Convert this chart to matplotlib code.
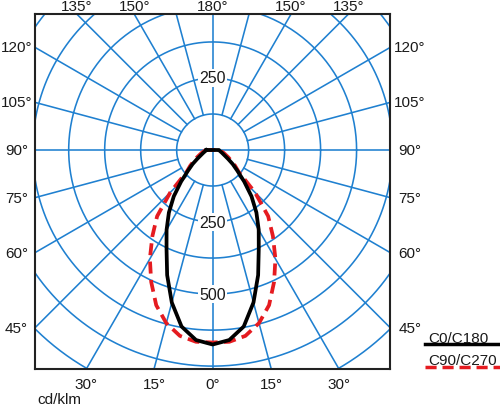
"""Polar luminous intensity diagram (cd/klm), C0/C180 and C90/C270 planes."""
import numpy as np
import matplotlib
matplotlib.use("Agg")
import matplotlib.pyplot as plt
from matplotlib.lines import Line2D

plt.rcParams["font.family"] = ["Liberation Sans", "DejaVu Sans"]

# gamma angle from nadir (deg), intensity in cd/klm
gamma = [0, 5, 10, 15, 20, 25, 30, 35, 40, 45, 50, 55, 60, 65, 70, 75, 80, 85, 90]
c0_c180 = [675, 662, 622, 548, 462, 379, 320, 265, 210, 155, 112, 85, 62, 47,
           38, 32, 27, 24, 22]
c90_c270 = [668, 668, 655, 622, 573, 505, 436, 365, 300, 208, 118, 95, 75, 60,
            48, 40, 33, 28, 25]

ring_step = 125
ring_labels_top = [250]
ring_labels_bottom = [250, 500]
side_angles = [120, 105, 90, 75, 60, 45]
top_angles = [135, 150, 180, 150, 135]
top_signs = [-1, -1, 0, 1, 1]
bottom_angles = [30, 15, 0, 15, 30]
bottom_signs = [-1, -1, 0, 1, 1]

BLUE = "#1f80d0"
RED = "#e51b20"
TXT = "#1a1a1a"
FS = 11

fig = plt.figure(figsize=(5.0, 4.06), dpi=100)
ax = fig.add_axes([35 / 500, 36 / 406, 355 / 500, 355 / 406])
xmin, xmax, ymin, ymax = -617, 616, -760, 472
ax.set_xlim(xmin, xmax)
ax.set_ylim(ymin, ymax)
ax.set_xticks([]); ax.set_yticks([])
for s in ax.spines.values():
    s.set_linewidth(1.5); s.set_color("#222222")
upp = (xmax - xmin) / 355  # data units per pixel

# grid: rings and radial lines
t = np.linspace(0, 2 * np.pi, 400)
for k in range(1, 9):
    r = k * ring_step
    ax.plot(r * np.cos(t), r * np.sin(t), color=BLUE, lw=1.15, zorder=1)
for a in range(0, 360, 15):
    rad = np.radians(a)
    r0 = 0 if a % 90 == 0 else ring_step
    ax.plot([r0 * np.sin(rad), 1100 * np.sin(rad)],
            [-r0 * np.cos(rad), -1100 * np.cos(rad)], color=BLUE, lw=1.15,
            zorder=1)

box = dict(facecolor="white", edgecolor="none", pad=1.0)
for v in ring_labels_top:
    ax.text(0, v, str(v), ha="center", va="center", fontsize=FS + 0.5,
            color=TXT, bbox=box, zorder=2)
for v in ring_labels_bottom:
    ax.text(0, -v, str(v), ha="center", va="center", fontsize=FS + 0.5,
            color=TXT, bbox=box, zorder=2)

# curves (mirrored about nadir)
g = np.radians(np.array(gamma))
for vals, style in [(c90_c270, dict(color=RED, lw=2.7, ls=(0, (3.2, 1.7)))),
                    (c0_c180, dict(color="black", lw=2.7))]:
    r = np.array(vals, dtype=float)
    gg = np.concatenate([-g[::-1], g[1:]])
    rr = np.concatenate([r[::-1], r[1:]])
    xs = rr * np.sin(gg)
    ys = -rr * np.cos(gg)
    xs = np.append(xs, xs[0]); ys = np.append(ys, ys[0])
    ax.plot(xs, ys, zorder=3, solid_joinstyle="round", **style)

# angle labels around the frame
for a in side_angles:
    rad = np.radians(a)
    yl = xmin / np.sin(rad) * np.cos(rad)
    ax.text(xmin - 18.5 * upp, yl, f"{a}°", ha="center", va="center",
            fontsize=FS, color=TXT, clip_on=False)
    ax.text(xmax + 20 * upp, yl, f"{a}°", ha="center", va="center",
            fontsize=FS, color=TXT, clip_on=False)
for a, sgn in zip(top_angles, top_signs):
    x = sgn * ymax * np.tan(np.radians(180 - a))
    ax.text(x, ymax + 8 * upp, f"{a}°", ha="center", va="center",
            fontsize=FS, color=TXT, clip_on=False)
for a, sgn in zip(bottom_angles, bottom_signs):
    x = sgn * -ymin * np.tan(np.radians(a))
    ax.text(x, ymin - 15 * upp, f"{a}°", ha="center", va="center",
            fontsize=FS, color=TXT, clip_on=False)

fig.text(37 / 500, 1 - 400 / 406, "cd/klm", ha="left", va="center",
         fontsize=FS, color=TXT)

# legend
fig.text(428 / 500, 1 - 343 / 406, "C0/C180", ha="left", va="baseline",
         fontsize=FS, color=TXT)
fig.add_artist(Line2D([425 / 500, 1.0], [1 - 345 / 406] * 2, color="black",
                      lw=2.5, transform=fig.transFigure))
fig.text(428 / 500, 1 - 365 / 406, "C90/C270", ha="left", va="baseline",
         fontsize=FS, color=TXT)
fig.add_artist(Line2D([425 / 500, 1.0], [1 - 368 / 406] * 2, color=RED,
                      lw=2.5, ls=(0, (3.2, 1.7)), transform=fig.transFigure))

fig.savefig("out.png", dpi=100)
